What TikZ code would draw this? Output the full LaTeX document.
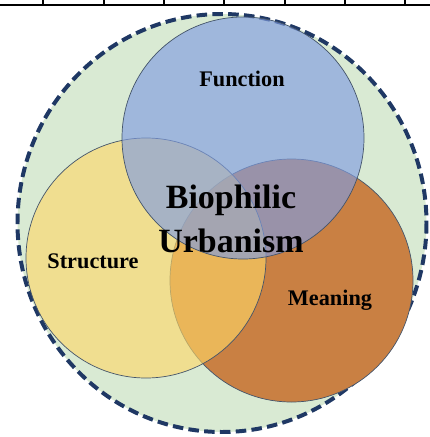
\documentclass[tikz,border=0pt]{standalone}
\usepackage{fontspec}
\setmainfont{Liberation Serif}

\definecolor{bgGreen}{HTML}{D9EAD3}
\definecolor{ringNavy}{HTML}{1F3864}
\definecolor{rimGray}{HTML}{44546A}
\definecolor{funcBlue}{RGB}{128,157,225}
\definecolor{structYellow}{RGB}{255,216,103}
\definecolor{meanOrange}{HTML}{C98043}

\tikzset{
  venn/.style={draw=rimGray, line width=0.6pt},
  lbl/.style={font=\fontsize{19}{22}\selectfont\bfseries, anchor=base},
}

\begin{document}
\begin{tikzpicture}[x=0.03cm,y=-0.03cm]
	\useasboundingbox (0,0) rectangle (430,437);
	% rule of a table, cut off at the top
	\draw[line width=1.5pt] (0,5) -- (430,5);
	\foreach \tx in {43,104,164,224,285,345,405}
		\draw[line width=1pt] (\tx,0) -- (\tx,5);
	% outer dashed ring
	\coordinate (ring) at (222,223);
	\draw[fill=bgGreen, draw=ringNavy, line width=3.4pt,
		dash pattern=on 9pt off 4.5pt] (ring) ellipse [x radius=204.5, y radius=209];
	% the three sets
	\coordinate (meanC)   at (291.5,280.5);
	\coordinate (structC) at (146,258);
	\coordinate (funcC)   at (243,138);
	\draw[venn, fill=meanOrange] (meanC) circle [radius=121.5];
	\draw[venn, fill=structYellow, fill opacity=0.62] (structC) circle [radius=120];
	\draw[venn, fill=funcBlue, fill opacity=0.65] (funcC) circle [radius=121];
	% labels
	\node[lbl] (function)  at (242,86)  {Function};
	\node[lbl] (structure) at (93,268)  {Structure};
	\node[lbl] (meaning)   at (330,305) {Meaning};
	\node[font=\fontsize{29}{37.4}\selectfont\bfseries, align=center]
		(core) at (231,219) {Biophilic\\Urbanism};
\end{tikzpicture}
\end{document}
